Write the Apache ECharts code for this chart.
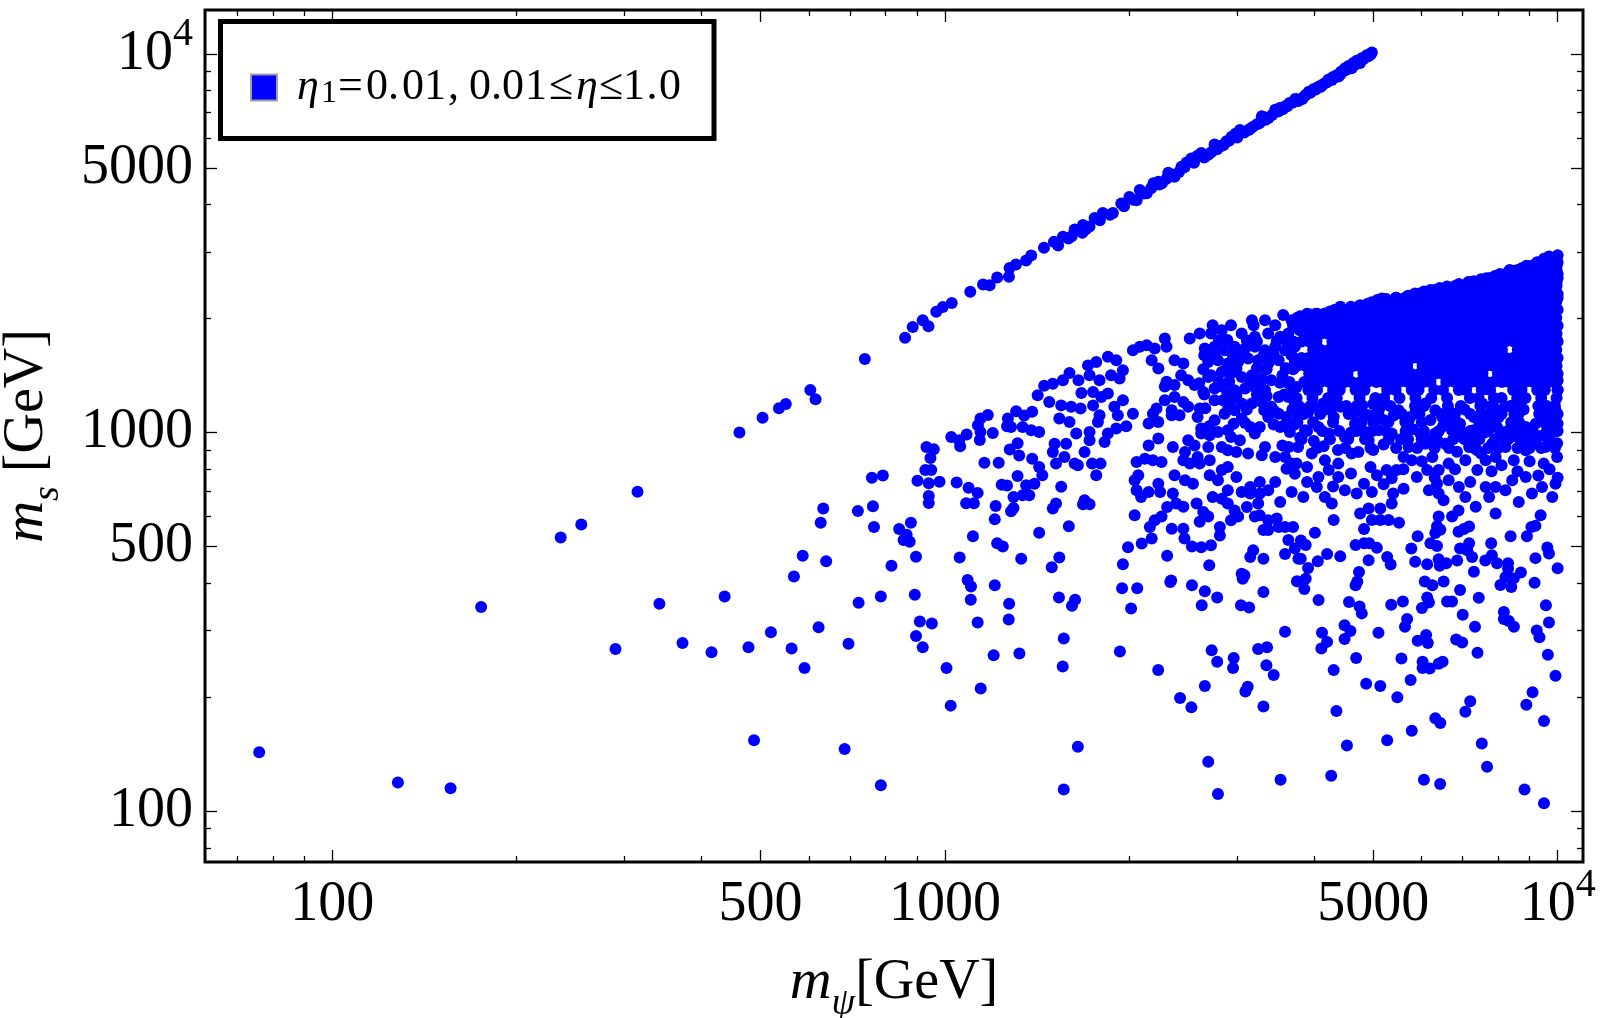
<!DOCTYPE html>
<html>
<head>
<meta charset="utf-8">
<title>m_s vs m_psi</title>
<script src="https://cdn.jsdelivr.net/npm/echarts@6/dist/echarts.min.js"></script>
<style>
  html, body { margin: 0; padding: 0; background: #fff; }
  #chart { width: 1600px; height: 1018px; }
</style>
</head>
<body>
<div id="chart"></div>
<script>
// 坐标刻度
const xMajorTicks = [100, 500, 1000, 5000, 10000]
const xMinorTicks = [70, 80, 90, 200, 300, 400, 600, 700, 800, 900, 2000, 3000, 4000, 6000, 7000, 8000, 9000]
const yMajorTicks = [100, 500, 1000, 5000, 10000]
const yMinorTicks = [80, 90, 200, 300, 400, 600, 700, 800, 900, 2000, 3000, 4000, 6000, 7000, 8000, 9000]

const seriesName = 'η1=0.01,0.01≤η≤1.0'

// 上方 m_s ≈ 2 m_ψ 分支  [m_ψ, m_s]
const linePoints = [
  [462, 1000], [504, 1095], [536, 1160], [550, 1190], [603, 1295], [615, 1225], [740, 1565], [861, 1780],
  [886, 1900], [920, 1980], [940, 1910], [968, 2085], [992, 2145], [1026, 2200], [1100, 2355], [1154, 2460],
  [1183, 2450], [1217, 2570], [1272, 2580], [1275, 2720], [1306, 2780], [1357, 2850], [1383, 2935], [1451, 3080],
  [1506, 3190], [1558, 3290], [1591, 3255], [1628, 3440], [1676, 3370], [1680, 3535], [1722, 3500], [1755, 3690],
  [1810, 3800], [1880, 3800], [1940, 4030], [2000, 4190], [2055, 4110], [2080, 4375], [2135, 4290], [2190, 4555],
  [2230, 4600], [2260, 4555], [2315, 4860], [2370, 4740], [2433, 5040], [2480, 5170], [2525, 5300], [2580, 5380],
  [2620, 5480], [2690, 5420], [2755, 5770], [2790, 5660], [2820, 5710], [2880, 5880], [2937, 6050], [2980, 6160],
  [3030, 6300], [3130, 6300], [3180, 6420], [3230, 6520], [3290, 6850], [3330, 6800], [3373, 6780], [3460, 7120],
  [3520, 7200], [3590, 7280], [3650, 7420], [3730, 7610], [3780, 7520], [3830, 7610], [3880, 7790], [3925, 7950],
  [4000, 8080], [4072, 8200], [4130, 8300], [4175, 8380], [4230, 8570], [4300, 8690], [4365, 8800], [4390, 8720],
  [4430, 8980], [4497, 9170], [4560, 9300], [4610, 9170], [4640, 9470], [4700, 9600], [4760, 9470], [4790, 9750],
  [4880, 9920], [4975, 10100],
  [1530, 3120], [1610, 3300], [1700, 3450], [1790, 3640], [1860, 3760], [1960, 3960], [2030, 4120], [2110, 4280],
  [2170, 4420], [2240, 4520], [2300, 4680], [2350, 4800], [2410, 4880], [2460, 5020], [2550, 5160], [2650, 5330],
  [2720, 5500], [2780, 5600], [2850, 5750], [2910, 5900], [3000, 6020], [3080, 6200], [3150, 6350], [3260, 6560],
  [3340, 6700], [3420, 6900], [3500, 7050], [3560, 7150], [3620, 7280], [3700, 7450], [3760, 7600], [3850, 7700],
  [3950, 7900], [4030, 8060], [4110, 8200], [4200, 8420], [4280, 8540], [4340, 8700], [4420, 8840], [4470, 9000],
  [4530, 9100], [4590, 9250], [4660, 9350], [4730, 9500], [4820, 9700], [4900, 9850], [4950, 9950]
]

// 左侧及中下部散点
const lowPoints = [
  [76, 143], [128, 119], [156, 115], [175, 346], [236, 528], [255, 572], [315, 698], [290, 268], [342, 353],
  [373, 278], [416, 263], [437, 369],
  [1175, 1113], [1143, 1089], [1132, 1046], [1143, 1004], [1140, 956], [1197, 998], [1267, 1089], [1307, 1139],
  [1263, 1040], [1282, 1035], [1314, 937], [1276, 902], [1322, 870], [1024, 974], [1055, 955], [1085, 988],
  [1059, 920], [933, 916], [959, 904], [947, 857], [929, 797], [950, 797], [902, 746], [941, 735], [980, 742],
  [941, 680], [941, 652], [1045, 738], [1093, 715], [1131, 693], [1083, 651], [1115, 651], [1160, 832], [1224, 832],
  [1314, 768], [1238, 728], [1263, 725], [1294, 676], [1210, 640], [1294, 632], [1282, 620], [1206, 590], [760, 760],
  [792, 770], [633, 630], [627, 578], [721, 621], [763, 639], [766, 563], [842, 556], [880, 578], [866, 537],
  [856, 520], [876, 515], [897, 470], [818, 445], [1111, 532], [1057, 468], [1217, 510], [1243, 500], [1332, 464],
  [586, 473], [640, 457], [567, 417], [723, 355], [786, 369], [893, 373], [1089, 408], [1103, 392], [1102, 362],
  [1206, 395], [1273, 353], [1271, 321], [1131, 315], [910, 317], [952, 313], [897, 290], [920, 271], [520, 297],
  [622, 306], [478, 271], [562, 269], [696, 277], [590, 239], [1006, 239], [1201, 258], [1323, 261], [1144, 211],
  [1022, 190], [488, 154], [686, 146], [786, 117],
  [1535, 367], [1631, 362], [1612, 349], [1563, 286], [1557, 241], [1946, 388], [2060, 388], [2013, 343],
  [1930, 264], [2229, 236], [2332, 403], [2530, 395], [2656, 381], [2782, 367], [2625, 350], [3082, 420],
  [3062, 411], [3042, 350], [3137, 345], [3310, 379], [3754, 405], [3590, 298], [2725, 266], [2782, 248],
  [2960, 254], [2953, 239], [3245, 268], [3355, 271], [3347, 243], [3440, 229], [2656, 214], [3120, 213],
  [3093, 207], [2420, 199], [2525, 188], [3310, 189], [1648, 148], [2690, 135], [3530, 121], [1563, 114], [2790, 111]
]

// 中部 (1300 < m_ψ < 3800)
const midPoints = [
  [1347, 1110], [1388, 1135], [1339, 1035], [1383, 1014], [1425, 1004], [1417, 1255], [1452, 1330], [1500, 1345],
  [1558, 1375], [1597, 1437], [1480, 1205], [1548, 1180], [1607, 1170], [1665, 1157], [1537, 1089], [1597, 1067],
  [1638, 994], [1652, 1375], [1712, 1505], [1766, 1536], [1845, 1585], [1904, 1553], [1722, 1418], [1788, 1375],
  [1670, 1273], [1745, 1280], [1800, 1242], [1845, 1268], [1745, 1180], [1788, 1111], [1777, 1067], [1867, 1418],
  [1928, 1390], [1952, 1462], [1890, 1170], [1952, 1218], [1915, 1111], [2027, 1122], [1977, 1040], [1904, 1025],
  [1845, 994], [1822, 945], [1722, 1004], [1722, 955], [1690, 889], [1388, 853], [1510, 935], [1577, 935],
  [1500, 889], [1567, 862], [1518, 828], [1628, 828], [1648, 820], [1738, 828], [1795, 828], [1766, 771],
  [1425, 811], [1442, 771], [1400, 733], [1357, 726], [1339, 683], [1373, 683], [1548, 719], [1518, 650],
  [1500, 630], [1690, 663], [1722, 647], [1680, 647], [1425, 544], [1593, 566], [1494, 441], [1537, 468],
  [1952, 449], [1990, 498], [2040, 605], [2095, 509], [2175, 525], [2160, 563], [2200, 587], [2257, 600],
  [2305, 636], [2345, 557], [2450, 557], [2460, 525], [2530, 500], [2620, 498], [2718, 504], [2810, 535],
  [2305, 473], [2340, 407], [2700, 446], [2040, 748], [2068, 771], [2055, 704], [2090, 676], [2150, 697],
  [2230, 733], [2245, 697], [2355, 690], [2385, 650], [2450, 637], [2370, 771], [2465, 748], [2540, 733],
  [2575, 650], [2640, 617], [2690, 600], [2605, 581], [2055, 836], [2120, 853], [2185, 845], [2257, 836],
  [2150, 925], [2230, 964], [2355, 916], [2465, 889], [2450, 845], [2510, 828], [2605, 828], [2585, 862],
  [2495, 955], [2555, 925], [2705, 845], [2705, 771], [2830, 797], [2895, 811], [2990, 763], [2790, 748],
  [2895, 704], [2735, 676], [2830, 669], [2895, 650], [2970, 623], [3110, 636], [3050, 697], [3150, 718],
  [3265, 740], [3150, 690], [3265, 690], [3370, 704], [3460, 740], [3525, 656], [3680, 697], [3205, 600],
  [3245, 650], [3265, 605], [3370, 587], [3480, 593], [3310, 553], [3370, 553], [3505, 563], [3590, 563],
  [3700, 563], [3635, 520], [3725, 494], [3185, 489], [3150, 469], [3310, 464], [3590, 478], [3775, 464],
  [3050, 424], [2930, 587], [3010, 600], [2810, 563], [2990, 889], [3125, 880], [2895, 898], [3330, 916],
  [3290, 871], [3555, 925], [3640, 916], [3680, 828], [3590, 862], [3725, 779], [3460, 862], [3610, 803],
  [2135, 1700], [2080, 1685], [2027, 1650], [2200, 1668], [2285, 1772], [2300, 1685], [2175, 1553], [2230, 1476],
  [2370, 1553], [2450, 1522], [2510, 1772], [2605, 1827], [2300, 1362], [2285, 1323], [2370, 1336], [2430, 1418],
  [2495, 1375], [2555, 1336], [2640, 1280], [2690, 1402], [2285, 1218], [2370, 1242], [2450, 1205], [2495, 1170],
  [2215, 1157], [2185, 1122], [2345, 1145], [2345, 1111], [2415, 1111], [2150, 1057], [2230, 1067], [2605, 1157],
  [2585, 1100], [2620, 1025], [2620, 994], [2705, 984], [2790, 1004], [2895, 1014], [2755, 1078], [2860, 1122],
  [2970, 1145], [3050, 1089], [3150, 1035], [3265, 1035], [3370, 1100], [3505, 1122], [3610, 1100], [3525, 1035],
  [3655, 1004], [3205, 994], [3030, 955], [2930, 974], [2830, 916], [2690, 916], [2755, 1218], [2845, 1218],
  [2930, 1218], [3050, 1193], [3170, 1193], [3290, 1205], [3410, 1170], [3505, 1242], [3635, 1242], [3725, 1193],
  [2755, 1307], [2845, 1320], [2970, 1294], [3090, 1307], [3205, 1320], [3330, 1294], [2718, 1418], [2830, 1446],
  [2930, 1432], [3050, 1403], [3170, 1418], [3290, 1390], [3410, 1375], [3555, 1418], [3640, 1347], [3750, 1320],
  [2690, 1537], [2790, 1553], [2895, 1522], [3010, 1537], [3125, 1570], [3245, 1553], [3370, 1522], [3505, 1553],
  [3610, 1476], [3725, 1537], [2655, 1668], [2755, 1685], [2860, 1650], [2970, 1685], [3090, 1668], [3205, 1685],
  [3330, 1650], [3460, 1685], [3590, 1650], [3725, 1685], [2718, 1827], [2830, 1864], [2930, 1921], [3050, 1827],
  [3190, 1921], [3330, 1980], [3460, 1921], [3565, 2045], [3680, 1980], [3795, 1864], [3205, 1790], [3370, 1827],
  [3525, 1790], [3635, 1827], [2735, 1921], [3170, 1980], [4420, 2150], [4760, 2170], [4975, 2210], [5165, 2260],
  [2800, 1750], [2890, 1755], [3110, 1750], [3230, 1740], [3480, 1745], [3600, 1750], [2650, 1600], [2750, 1605],
  [2950, 1600], [3060, 1610], [3310, 1595], [3440, 1605], [3680, 1600], [2640, 1470], [2880, 1475], [2990, 1480],
  [3230, 1480], [3350, 1470], [3600, 1480], [3700, 1470], [2600, 1350], [2800, 1360], [2910, 1365], [3150, 1360],
  [3270, 1350], [3520, 1355], [3650, 1360], [2650, 1260], [2890, 1265], [2990, 1255], [3230, 1260], [3350, 1250],
  [3580, 1260], [3700, 1255], [2660, 1160], [2900, 1170], [3110, 1150], [3320, 1145], [3450, 1140], [3690, 1150],
  [2700, 1040], [2960, 1055], [3090, 1060], [3440, 1050], [3600, 1050], [3720, 1050]
]

// 右侧 (m_ψ > 3700, m_s < 1250)
const rightPoints = [
  [3770, 1100], [3920, 1134], [4140, 1192], [4310, 1100], [3870, 1014], [4070, 1035], [4230, 994], [4495, 974],
  [4670, 1056], [4915, 1111], [5100, 1134], [5295, 1067], [5500, 1146], [5640, 1067], [5870, 1146], [5970, 994],
  [5710, 916], [5360, 994], [5100, 1014], [4915, 955], [4730, 889], [4610, 880], [4385, 828], [4170, 845],
  [3970, 880], [3770, 916], [3750, 828], [3900, 811], [4070, 763], [4230, 797], [4385, 763], [4045, 718],
  [3845, 676], [4170, 676], [4280, 650], [4495, 704], [4700, 690], [4830, 733], [4950, 811], [5070, 771],
  [4975, 697], [5260, 797], [5360, 757], [5460, 797], [5605, 862], [5780, 845], [5890, 763], [5605, 711],
  [5390, 690], [5360, 650], [5135, 630], [4915, 630], [4760, 611], [6125, 797], [6165, 704], [6395, 690],
  [6515, 663], [6355, 733], [6640, 748], [6900, 718], [6640, 828], [6395, 797], [6245, 862], [6085, 935],
  [6315, 994], [6550, 935], [6725, 1014], [6980, 974], [6930, 1056], [7170, 916], [7300, 1014], [7395, 898],
  [7070, 845], [7395, 797], [7630, 845], [7920, 862], [7820, 935], [8120, 974], [8220, 916], [8480, 845],
  [8870, 898], [9210, 935], [9550, 916], [9980, 862], [9490, 828], [8870, 763], [8430, 748], [8220, 704],
  [7920, 718], [7630, 718], [7730, 676], [7350, 637], [7070, 676], [6890, 623], [6725, 600], [6395, 600],
  [7920, 611], [8640, 656], [9080, 690], [9430, 718], [9920, 733], [9800, 676], [9380, 605], [10000, 1056],
  [9920, 1146], [9550, 1100], [9210, 1056], [8870, 1035], [8640, 1122], [8220, 1170], [8015, 1100], [7730, 1122],
  [7530, 1193], [6640, 1146], [6315, 1146], [6085, 1193], [7440, 1014], [8325, 1014], [10000, 1375], [10000, 1295],
  [9980, 937],
  [3820, 1160], [3990, 1170], [4230, 1150], [4430, 1170], [4560, 1120], [4800, 1180], [5000, 1190], [5200, 1080],
  [5400, 1110], [5750, 1100], [6200, 1080], [6480, 1100], [6800, 1120], [7050, 1150], [7300, 1100], [7600, 1060],
  [7900, 1160], [8450, 1180], [8800, 1150], [9400, 1160], [9700, 1060], [3800, 970], [4000, 950], [4150, 920],
  [4380, 900], [4600, 1000], [4820, 1010], [5000, 900], [5200, 930], [5550, 960], [5800, 1020], [6200, 960],
  [6500, 1040], [6850, 890], [7200, 960], [7600, 1000], [7950, 1040], [8500, 980], [8700, 930], [9000, 1000],
  [9350, 980], [9800, 1000], [3900, 740], [4300, 720], [4600, 780], [5200, 730], [5600, 800], [6000, 840],
  [6300, 760], [6800, 800], [7200, 740], [7500, 880], [7800, 790], [8100, 820], [8600, 790], [9000, 840],
  [9300, 770], [9700, 800], [10000, 760],
  [3810, 519], [3880, 505], [4017, 544], [3808, 464], [3915, 439], [3880, 411], [3860, 386], [4060, 457],
  [4205, 478], [4418, 471], [4310, 588], [4830, 556], [4975, 588], [5135, 588], [5300, 588], [5510, 578],
  [4680, 505], [4830, 510], [4925, 510], [5070, 496], [4915, 460], [5270, 469], [5340, 448], [4740, 428],
  [4710, 404], [4680, 395], [4072, 361], [4565, 357], [4750, 347], [4790, 333], [5350, 351], [5590, 358],
  [5770, 494], [5910, 532], [5855, 456], [6125, 449], [6200, 510], [6355, 502], [6355, 566], [6315, 543],
  [6435, 554], [6395, 463], [6420, 445], [6580, 452], [6855, 459], [6070, 404], [6245, 395], [6515, 404],
  [6125, 367], [6165, 356], [6005, 344], [5680, 322], [5635, 307], [6600, 358], [6725, 358], [6930, 384],
  [6890, 547], [7030, 556], [7170, 565], [6930, 494], [7120, 489], [7170, 510], [7250, 469], [7300, 429],
  [7435, 366], [7000, 330], [7330, 307], [7620, 459], [7810, 474], [7790, 510], [7965, 452], [8380, 532],
  [8300, 452], [8300, 437], [8710, 427], [8220, 415], [8480, 412], [8065, 396], [8400, 391], [8910, 532],
  [9060, 563], [9200, 567], [9200, 466], [9620, 497], [9680, 479], [10000, 438], [9170, 401], [9570, 350],
  [8170, 336], [8170, 322], [8325, 318], [8485, 307], [9245, 300], [9340, 288], [9680, 315], [9640, 259],
  [9920, 228], [4125, 296], [4205, 280], [4115, 269], [4490, 310], [4590, 299], [4490, 285], [5100, 296],
  [4310, 236], [4690, 254], [4870, 217], [5135, 214], [5475, 200], [5560, 253], [5755, 222], [5910, 282],
  [6100, 292], [6140, 278], [6020, 248], [6020, 239], [6185, 238], [6395, 245], [6490, 248], [6830, 284],
  [6985, 279], [7400, 262], [4355, 184], [4530, 149], [4270, 124], [5270, 154], [5780, 163], [6315, 176],
  [6435, 171], [7200, 195], [7070, 183], [7520, 151], [7670, 131], [6050, 121], [6430, 118], [8890, 191],
  [9100, 206], [9500, 173], [8830, 114], [9500, 105]
]

// 密集区上沿
const edgePoints = [
  [3800, 2030], [3950, 2050], [4050, 2060], [4250, 2090], [4330, 2110], [4600, 2150], [4900, 2190], [5080, 2240],
  [5250, 2255], [5450, 2270], [5700, 2300], [5850, 2330], [6050, 2360], [6200, 2380], [6420, 2410], [6600, 2430],
  [6900, 2470], [7150, 2500], [7300, 2510], [7500, 2540], [7650, 2555], [7900, 2590], [8050, 2610], [8300, 2650],
  [8500, 2675], [8750, 2720], [9000, 2750], [9200, 2790], [9400, 2820], [9600, 2860], [9800, 2890], [10000, 2940]
]

// 右上密集区, 每行 [m_s, [m_ψ ...]]
const clusterRows = [
  [2920, [9680, 9950]],
  [2880, [9500, 9800]],
  [2820, [9260, 9540, 9820, 10000]],
  [2760, [8900, 9150, 9400, 9680, 9960]],
  [2690, [8350, 8610, 8860, 9120, 9400, 9680, 9960]],
  [2625, [8050, 8300, 8550, 8800, 9050, 9300, 9560, 9820, 10000]],
  [2560, [7760, 7990, 8220, 8480, 8720, 8990, 9250, 9530, 9820, 10000]],
  [2500, [7250, 7450, 7650, 7900, 8150, 8400, 8650, 8900, 9150, 9420, 9700, 9960]],
  [2440, [6800, 6990, 7210, 7410, 7650, 7860, 8110, 8340, 8600, 8860, 9110, 9400, 9670, 9960]],
  [2380, [6300, 6500, 6700, 6900, 7120, 7340, 7560, 7790, 8020, 8270, 8520, 8780, 9030, 9300, 9580, 9860]],
  [2325, [5950, 6110, 6300, 6500, 6680, 6900, 7090, 7320, 7520, 7760, 7980, 8230, 8460, 8730, 8980, 9260, 9530, 9830, 10000]],
  [2270, [5450, 5640, 5820, 6000, 6200, 6380, 6590, 6780, 7000, 7200, 7430, 7650, 7880, 8120, 8380, 8640, 8900, 9170, 9450, 9740, 10000]],
  [2215, [5060, 5190, 5360, 5510, 5690, 5850, 6040, 6200, 6400, 6580, 6800, 6980, 7210, 7410, 7650, 7860, 8110, 8340, 8610, 8850, 9130, 9390, 9680, 9950]],
  [2160, [4750, 4900, 5060, 5220, 5400, 5570, 5750, 5920, 6100, 6280, 6470, 6660, 6870, 7070, 7290, 7510, 7740, 7980, 8220, 8480, 8740, 9010, 9290, 9570, 9860]],
  [2110, [4420, 4560, 4680, 4840, 4970, 5130, 5270, 5440, 5590, 5780, 5930, 6130, 6290, 6500, 6680, 6900, 7090, 7320, 7520, 7760, 7980, 8230, 8460, 8730, 8980, 9260, 9530, 9830, 10000]],
  [2060, [3900, 4030, 4160, 4300, 4450, 4600, 4740, 4900, 5050, 5210, 5380, 5540, 5720, 5890, 6070, 6260, 6450, 6640, 6850, 7050, 7270, 7490, 7720, 7960, 8200, 8450, 8710, 8980, 9260, 9540, 9830]],
  [2010, [3760, 3860, 3990, 4100, 4240, 4350, 4490, 4610, 4770, 4890, 5060, 5190, 5360, 5510, 5690, 5850, 6040, 6200, 6400, 6580, 6800, 6980, 7210, 7410, 7650, 7860, 8110, 8340, 8610, 8850, 9130, 9390, 9680, 9950]],
  [1915, [3700, 3820, 3920, 4050, 4160, 4300, 4410, 4560, 4680, 4840, 4970, 5130, 5270, 5440, 5590, 5780, 5930, 6130, 6290, 6500, 6680, 6900, 7090, 7320, 7520, 7760, 7980, 8230, 8460, 8730, 8980, 9260, 9530, 9830, 10000]],
  [1825, [3880, 3980, 4110, 4220, 4360, 4480, 4630, 4750, 4910, 5040, 5210, 5350, 5520, 5680, 5860, 6020, 6220, 6390, 6600, 6780, 7000, 7190, 7430, 7630, 7870, 8100, 8350, 8590, 8860, 9110, 9400, 9670, 9960]],
  [1740, [3700, 3820, 3930, 4040, 4290, 4420, 4540, 4700, 4820, 4980, 5120, 5290, 5430, 5610, 5760, 5950, 6110, 6310, 6480, 6700, 6880, 7100, 7300, 7540, 7740, 7990, 8220, 8480, 8720, 8990, 9250, 9540, 9820, 10000]],
  [1655, [3990, 4100, 4240, 4350, 4490, 4610, 4770, 4890, 5060, 5190, 5360, 5510, 5690, 5850, 6040, 6200, 6400, 6580, 6800, 6980, 7210, 7410, 7650, 7860, 8110, 8610, 8850, 9130, 9390, 9680, 9950]],
  [1575, [3820, 3920, 4050, 4160, 4300, 4410, 4560, 4680, 4840, 4970, 5130, 5270, 5440, 5590, 5780, 5930, 6130, 6290, 6500, 6680, 6900, 7090, 7320, 7520, 7760, 7980, 8230, 8460, 8730, 8980, 9260, 9530, 9830, 10000]],
  [1500, [3750, 3880, 3980, 4110, 4220, 4360, 4480, 4630, 4750, 4910, 5040, 5210, 5350, 5520, 5680, 6020, 6220, 6390, 6600, 6780, 7000, 7190, 7430, 7630, 7870, 8100, 8350, 8590, 8860, 9110, 9400, 9670, 9960]],
  [1430, [3930, 4040, 4170, 4290, 4420, 4540, 4820, 4980, 5120, 5290, 5430, 5610, 5760, 5950, 6110, 6310, 6480, 6700, 6880, 7100, 7300, 7540, 7990, 8220, 8480, 8720, 8990, 9250, 9540, 9820, 10000]],
  [1360, [3860, 3990, 4100, 4240, 4350, 4490, 4610, 4770, 4890, 5060, 5190, 5360, 5510, 5690, 5850, 6040, 6200, 6580, 6800, 6980, 7210, 7410, 7650, 7860, 8110, 8340, 8610, 8850, 9130, 9390, 9680, 9950]],
  [1295, [3700, 3920, 4050, 4300, 4410, 4680, 4840, 5270, 5440, 5780, 5930, 6290, 6500, 6900, 7090, 7520, 7760, 8460, 8730, 9260, 9530, 10000]],
  [1235, [3750, 3980, 4220, 4360, 4750, 5040, 5210, 5520, 5860, 6220, 6600, 7190, 7430, 7870, 8100, 8590, 8860, 9400, 9960]],
  [1175, [3780, 3950, 4330, 4520, 4700, 5150, 5330, 5850, 6050, 6620, 6950, 7480, 7800, 8380, 8700, 9300, 9600, 9900]],
  [1120, [3850, 4100, 4640, 4830, 5050, 5570, 5950, 6450, 6700, 7200, 7500, 8100, 8500, 9330, 9750, 10000]],
  [1065, [3760, 3990, 4300, 4780, 5000, 5700, 6000, 6580, 6850, 7450, 7720, 8400, 8650, 9500, 9900]],
  [1010, [3900, 4130, 4400, 4700, 4980, 5250, 5650, 6050, 6400, 6950, 7200, 7700, 8050, 8550, 8750, 9100, 9600, 10000]],
  [960, [3820, 4250, 4550, 4850, 5300, 5700, 6000, 6350, 6750, 7050, 7450, 7900, 8300, 8800, 9150, 9650]],
  [910, [4050, 4500, 4950, 5450, 5900, 6300, 6650, 7300, 7700, 8000, 8600, 9000, 9400, 9900]]
]

const clusterPoints = []
clusterRows.forEach(function (row) {
  row[1].forEach(function (mpsi) {
    clusterPoints.push([mpsi, row[0]])
  })
})

const allPoints = linePoints.concat(lowPoints, midPoints, rightPoints, edgePoints, clusterPoints)

const serif = 'Liberation Serif'
const X_MIN = 62
const X_MAX = 11000
const Y_MIN = 73.4
const Y_MAX = 13070

function tickLabel(v) {
  let n = Math.round(v)
  return n === 10000 ? '{b|10}{sup|4}' : '{b|' + n + '}'
}

const labelRich = {
  b: { fontFamily: serif, fontSize: 56, lineHeight: 80, verticalAlign: 'middle', color: '#000' },
  sup: { fontFamily: serif, fontSize: 40, lineHeight: 40, verticalAlign: 'top', color: '#000' }
}

const nameRich = {
  i: { fontFamily: serif, fontStyle: 'italic', fontSize: 58, lineHeight: 80, verticalAlign: 'middle', color: '#000' },
  sub: { fontFamily: serif, fontStyle: 'italic', fontSize: 38, lineHeight: 40, verticalAlign: 'bottom', color: '#000' },
  r: { fontFamily: serif, fontSize: 56, lineHeight: 80, verticalAlign: 'middle', color: '#000' }
}

// 图例文字逐字排版 [字符, 宽度, 样式]
const legendGlyphs = [
  ['η', 24, 'it'], ['1', 17, 'sub'], ['=', 28], ['0', 22], ['.', 14], ['0', 22], ['1', 24], [',', 21],
  ['0', 22], ['.', 11], ['0', 23], ['1', 24], ['≤', 27], ['η', 23, 'it'], ['≤', 24], ['1', 23.5],
  ['.', 12.5], ['0', 22]
]
const legendRich = { g: { width: 15, lineHeight: 44 } }
let legendText = '{g|}'
legendGlyphs.forEach(function (g, i) {
  let isSub = g[2] === 'sub'
  legendRich['c' + i] = {
    width: g[1],
    fontFamily: serif,
    fontStyle: g[2] === 'it' ? 'italic' : 'normal',
    fontSize: isSub ? 32 : 44,
    lineHeight: isSub ? 26 : 44,
    verticalAlign: isSub ? 'bottom' : 'middle',
    color: '#000'
  }
  legendText += '{c' + i + '|' + g[0] + '}'
})

function makeAxis(range, position, ticks, len, label) {
  return {
    type: 'log',
    logBase: 10,
    min: range[0],
    max: range[1],
    position: position,
    axisLine: { show: false },
    splitLine: { show: false },
    axisTick: {
      show: true,
      inside: true,
      length: len,
      customValues: ticks,
      lineStyle: { color: '#000', width: 1.3 }
    },
    axisLabel: label || { show: false }
  }
}

let xMain = makeAxis([X_MIN, X_MAX], 'bottom', xMajorTicks, 12, {
  show: true,
  customValues: xMajorTicks,
  formatter: tickLabel,
  margin: 3,
  rich: labelRich
})
xMain.name = '{i|m}{sub|ψ}{r|[GeV]}'
xMain.nameLocation = 'middle'
xMain.nameGap = 81
xMain.nameTextStyle = { rich: nameRich }

let yMain = makeAxis([Y_MIN, Y_MAX], 'left', yMajorTicks, 12, {
  show: true,
  customValues: yMajorTicks,
  formatter: tickLabel,
  margin: 12,
  rich: labelRich
})
yMain.name = '{i|m}{sub|s}{r| [GeV]}'
yMain.nameLocation = 'middle'
yMain.nameRotate = 90
yMain.nameGap = 138
yMain.nameTextStyle = { rich: nameRich }

let chart = echarts.init(document.getElementById('chart'))

chart.setOption({
  animation: false,
  backgroundColor: '#fff',
  grid: {
    left: 205,
    top: 10,
    right: 17,
    bottom: 156,
    show: true,
    borderColor: '#000',
    borderWidth: 3,
    backgroundColor: 'transparent',
    outerBoundsMode: 'none'
  },
  legend: {
    data: [seriesName],
    left: 220.5,
    top: 21.5,
    icon: 'rect',
    itemWidth: 26,
    itemHeight: 26,
    selectedMode: false,
    padding: [44, 33, 29, 29.5],
    backgroundColor: '#fff',
    borderColor: '#000',
    borderWidth: 5,
    borderRadius: 0,
    itemStyle: { color: '#0000ff', borderColor: '#a0a0a0', borderWidth: 2 },
    formatter: function () {
      return legendText
    },
    textStyle: {
      fontFamily: serif,
      fontSize: 44,
      lineHeight: 44,
      color: '#000',
      rich: legendRich
    }
  },
  xAxis: [
    xMain,
    makeAxis([X_MIN, X_MAX], 'bottom', xMinorTicks, 6),
    makeAxis([X_MIN, X_MAX], 'top', xMajorTicks, 12),
    makeAxis([X_MIN, X_MAX], 'top', xMinorTicks, 6)
  ],
  yAxis: [
    yMain,
    makeAxis([Y_MIN, Y_MAX], 'left', yMinorTicks, 6),
    makeAxis([Y_MIN, Y_MAX], 'right', yMajorTicks, 12),
    makeAxis([Y_MIN, Y_MAX], 'right', yMinorTicks, 6)
  ],
  series: [{
    name: seriesName,
    type: 'scatter',
    xAxisIndex: 0,
    yAxisIndex: 0,
    symbol: 'circle',
    symbolSize: 12,
    itemStyle: { color: '#0000ff', opacity: 1 },
    emphasis: { disabled: true },
    data: allPoints
  }]
})
</script>
</body>
</html>
